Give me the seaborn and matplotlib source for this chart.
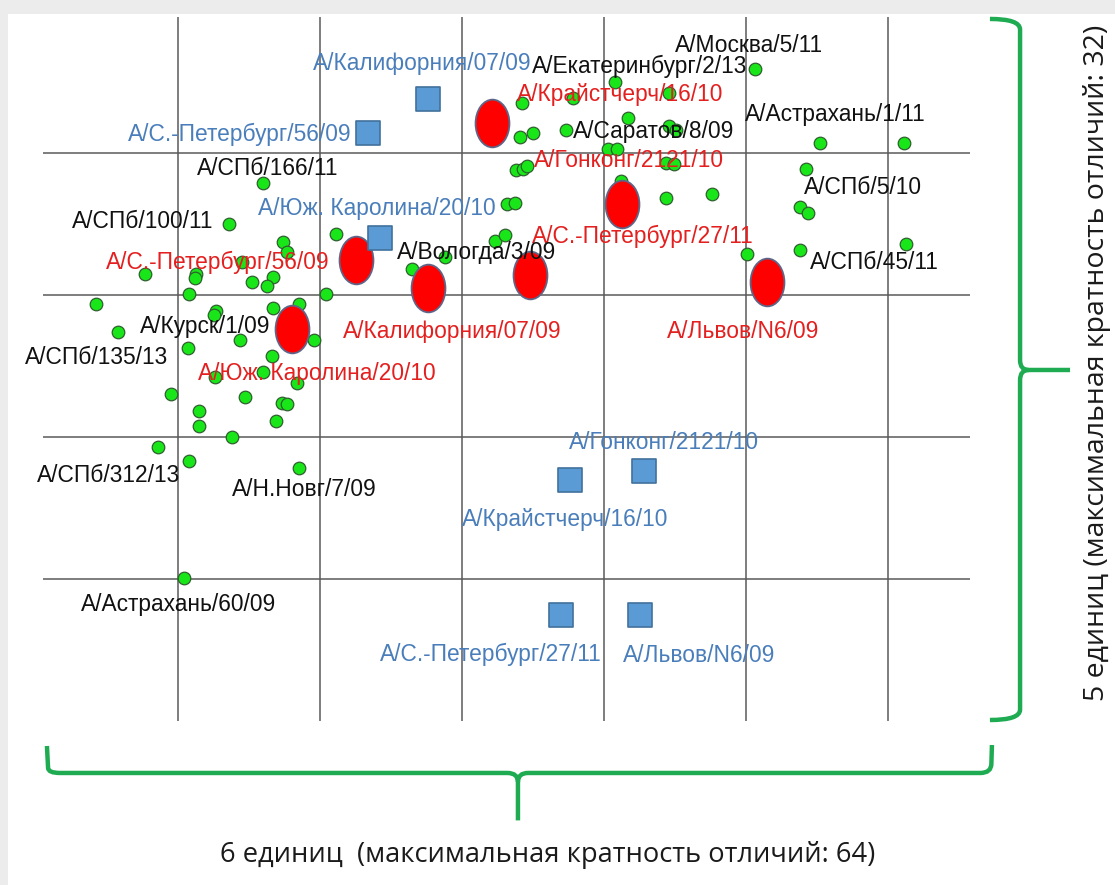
import matplotlib
matplotlib.use("Agg")
import matplotlib.pyplot as plt
import seaborn as sns
import pandas as pd
from matplotlib.path import Path
from matplotlib.patches import PathPatch, Rectangle
from matplotlib.markers import MarkerStyle

# Антигенная карта: координаты в антигенных единицах (1 клетка сетки = 1 ед.)
# зелёные кружки - вирусы
virus_x = [1.60, 1.36, 2.11, 1.74, 1.77, 0.77, 1.13, 1.12, 1.52, 1.67, 1.63, 1.45, 1.08,
           2.04, 0.42, 1.27, 1.25, 1.67, 1.85, 0.58, 1.44, 1.07, 1.96, 1.66, 1.60, 1.26,
           1.84, 0.95, 1.47, 1.73, 1.77, 1.15, 1.69, 1.15, 1.38, 0.86, 1.08, 1.85, 1.04,
           4.08, 3.42, 4.46, 3.78, 4.17, 3.41, 3.50, 3.73, 4.46, 4.51, 4.03, 4.09, 4.44,
           4.49, 3.38, 3.43, 3.46, 4.12, 4.44, 4.76, 3.32, 3.37, 3.23, 3.30, 2.65, 2.88,
           5.01, 5.06, 5.52, 6.11, 5.42, 5.38, 5.44, 5.38, 6.13]
virus_y = [3.79, 3.50, 3.43, 3.37, 3.30, 3.15, 3.15, 3.12, 3.09, 3.13, 3.06, 3.23, 3.01,
           3.01, 2.94, 2.89, 2.86, 2.91, 2.94, 2.74, 2.68, 2.63, 2.68, 2.57, 2.46, 2.42,
           2.38, 2.30, 2.28, 2.24, 2.23, 2.18, 2.11, 2.08, 2.00, 1.93, 1.83, 1.78, 1.01,
           4.50, 4.35, 4.42, 4.39, 4.25, 4.11, 4.14, 4.16, 4.19, 4.16, 4.03, 4.03, 3.93,
           3.92, 3.88, 3.89, 3.91, 3.80, 3.68, 3.71, 3.64, 3.65, 3.38, 3.42, 3.18, 3.27,
           3.29, 4.59, 4.07, 4.07, 3.89, 3.62, 3.58, 3.32, 3.36]

# красные эллипсы - референс-штаммы
ref_x = [3.21, 2.25, 2.76, 3.48, 4.13, 5.15, 1.80]
ref_y = [4.21, 3.25, 3.05, 3.14, 3.64, 3.09, 2.76]

# синие квадраты - сыворотки
serum_x = [2.76, 2.34, 2.42, 3.76, 4.28, 3.70, 4.25]
serum_y = [4.38, 4.14, 3.40, 1.70, 1.76, 0.75, 0.75]

# подписи: текст, x (левый край), y (центр)
blue_text = ["А/Калифорния/07/09", "А/С.-Петербург/56/09", "А/Юж. Каролина/20/10",
             "А/Гонконг/2121/10", "А/Крайстчерч/16/10", "А/С.-Петербург/27/11", "А/Львов/N6/09"]
blue_x = [1.95, 0.65, 1.56, 3.75, 3.00, 2.42, 4.13]
blue_y = [4.63, 4.13, 3.61, 1.96, 1.42, 0.47, 0.46]

red_text = ["А/Крайстчерч/16/10", "А/Гонконг/2121/10", "А/С.-Петербург/27/11",
            "А/С.-Петербург/56/09", "А/Калифорния/07/09", "А/Юж. Каролина/20/10", "А/Львов/N6/09"]
red_x = [3.39, 3.51, 3.49, 0.49, 2.16, 1.14, 4.44]
red_y = [4.41, 3.95, 3.41, 3.23, 2.74, 2.45, 2.74]

black_text = ["А/Москва/5/11", "А/Екатеринбург/2/13", "А/Саратов/8/09", "А/Астрахань/1/11",
              "А/СПб/166/11", "А/СПб/100/11", "А/СПб/5/10", "А/СПб/45/11", "А/Вологда/3/09",
              "А/Курск/1/09", "А/СПб/135/13", "А/СПб/312/13", "А/Н.Новг/7/09", "А/Астрахань/60/09"]
black_x = [4.50, 3.49, 3.78, 4.99, 1.13, 0.25, 5.41, 5.45, 2.54, 0.73, -0.08, 0.01, 1.38, 0.32]
black_y = [4.76, 4.61, 4.15, 4.27, 3.89, 3.52, 3.76, 3.23, 3.30, 2.78, 2.56, 1.73, 1.63, 0.82]

grid_x = [1, 2, 3, 4, 5, 6]
grid_y = [1, 2, 3, 4]

sns.set_style("white")
plt.rcParams["font.family"] = ["Liberation Sans", "DejaVu Sans"]

fig = plt.figure(figsize=(11.15, 8.85), dpi=100)
fig.patch.set_facecolor("#ececec")
fig.patches.append(Rectangle((8 / 1115, 0), 1, 1 - 14 / 885, transform=fig.transFigure,
                             facecolor="white", edgecolor="none", zorder=-1))
ax = fig.add_axes([0, 0, 1, 1])
ax.set_zorder(1)
ax.set_facecolor("none")
ax.patch.set_alpha(0)

# сетка
ax.vlines(grid_x, 0.0, 4.96, color="#5a5a5a", lw=1.1, zorder=1)
ax.hlines(grid_y, 0.05, 6.58, color="#5a5a5a", lw=1.1, zorder=1)

df_v = pd.DataFrame({"x": virus_x, "y": virus_y})
df_r = pd.DataFrame({"x": ref_x, "y": ref_y})
df_s = pd.DataFrame({"x": serum_x, "y": serum_y})

sns.scatterplot(data=df_v, x="x", y="y", ax=ax, s=82, color="#19e619",
                edgecolor="#2f5f2f", linewidth=0.9, zorder=2)

ell = Path.unit_circle()
ell = Path(ell.vertices * [0.71, 1.0], ell.codes)
sns.scatterplot(data=df_r, x="x", y="y", ax=ax, marker=MarkerStyle(ell), s=1180,
                color="#ff0000", edgecolor="#5d6688", linewidth=1.3, zorder=3)
sns.scatterplot(data=df_s, x="x", y="y", ax=ax, marker="s", s=290,
                color="#5b9bd5", edgecolor="#41719c", linewidth=1.2, zorder=3)

fs = 16.4
for t, x, y in zip(blue_text, blue_x, blue_y):
    ax.text(x, y, t, color="#4a7ebb", fontsize=fs, ha="left", va="center", zorder=4)
for t, x, y in zip(red_text, red_x, red_y):
    ax.text(x, y, t, color="#e3201f", fontsize=fs, ha="left", va="center", zorder=4)
for t, x, y in zip(black_text, black_x, black_y):
    ax.text(x, y, t, color="#111111", fontsize=fs, ha="left", va="center", zorder=4)

# фигурные скобки
green = "#1fab52"
C3, L, M = Path.CURVE3, Path.LINETO, Path.MOVETO
right_brace = Path(
    [(6.718, 4.944), (6.93, 4.944), (6.93, 4.87), (6.93, 2.54), (6.93, 2.472), (6.99, 2.472),
     (7.282, 2.472),
     (6.99, 2.472), (6.93, 2.472), (6.93, 2.40), (6.93, 0.08), (6.93, 0.007), (6.718, 0.007)],
    [M, C3, C3, L, C3, C3, L, M, C3, C3, L, C3, C3])
bottom_brace = Path(
    [(0.077, -0.176), (0.085, -0.33), (0.085, -0.366), (0.17, -0.366), (3.32, -0.366),
     (3.394, -0.366), (3.394, -0.43), (3.394, -0.70),
     (3.394, -0.43), (3.394, -0.366), (3.465, -0.366), (6.65, -0.366), (6.728, -0.366),
     (6.728, -0.30), (6.732, -0.169)],
    [M, L, C3, C3, L, C3, C3, L, M, C3, C3, L, C3, C3, L])
for p in (right_brace, bottom_brace):
    ax.add_patch(PathPatch(p, facecolor="none", edgecolor=green, lw=3.2,
                           capstyle="butt", joinstyle="round", zorder=2))

ax.text(3.606, -0.944, "6 единиц  (максимальная кратность отличий: 64)",
        fontsize=19.6, family=["Open Sans", "DejaVu Sans"], color="#1a1a1a",
        ha="center", va="center")
ax.text(7.472, 2.52, "5 единиц (максимальная кратность отличий: 32)",
        fontsize=20.5, family=["Open Sans", "DejaVu Sans"], color="#1a1a1a",
        ha="center", va="center", rotation=90)

ax.set_xlim(-36 / 142, 1079 / 142)
ax.set_ylim((721 - 885) / 142, 721 / 142)
ax.axis("off")

fig.savefig("out.png", dpi=100)
